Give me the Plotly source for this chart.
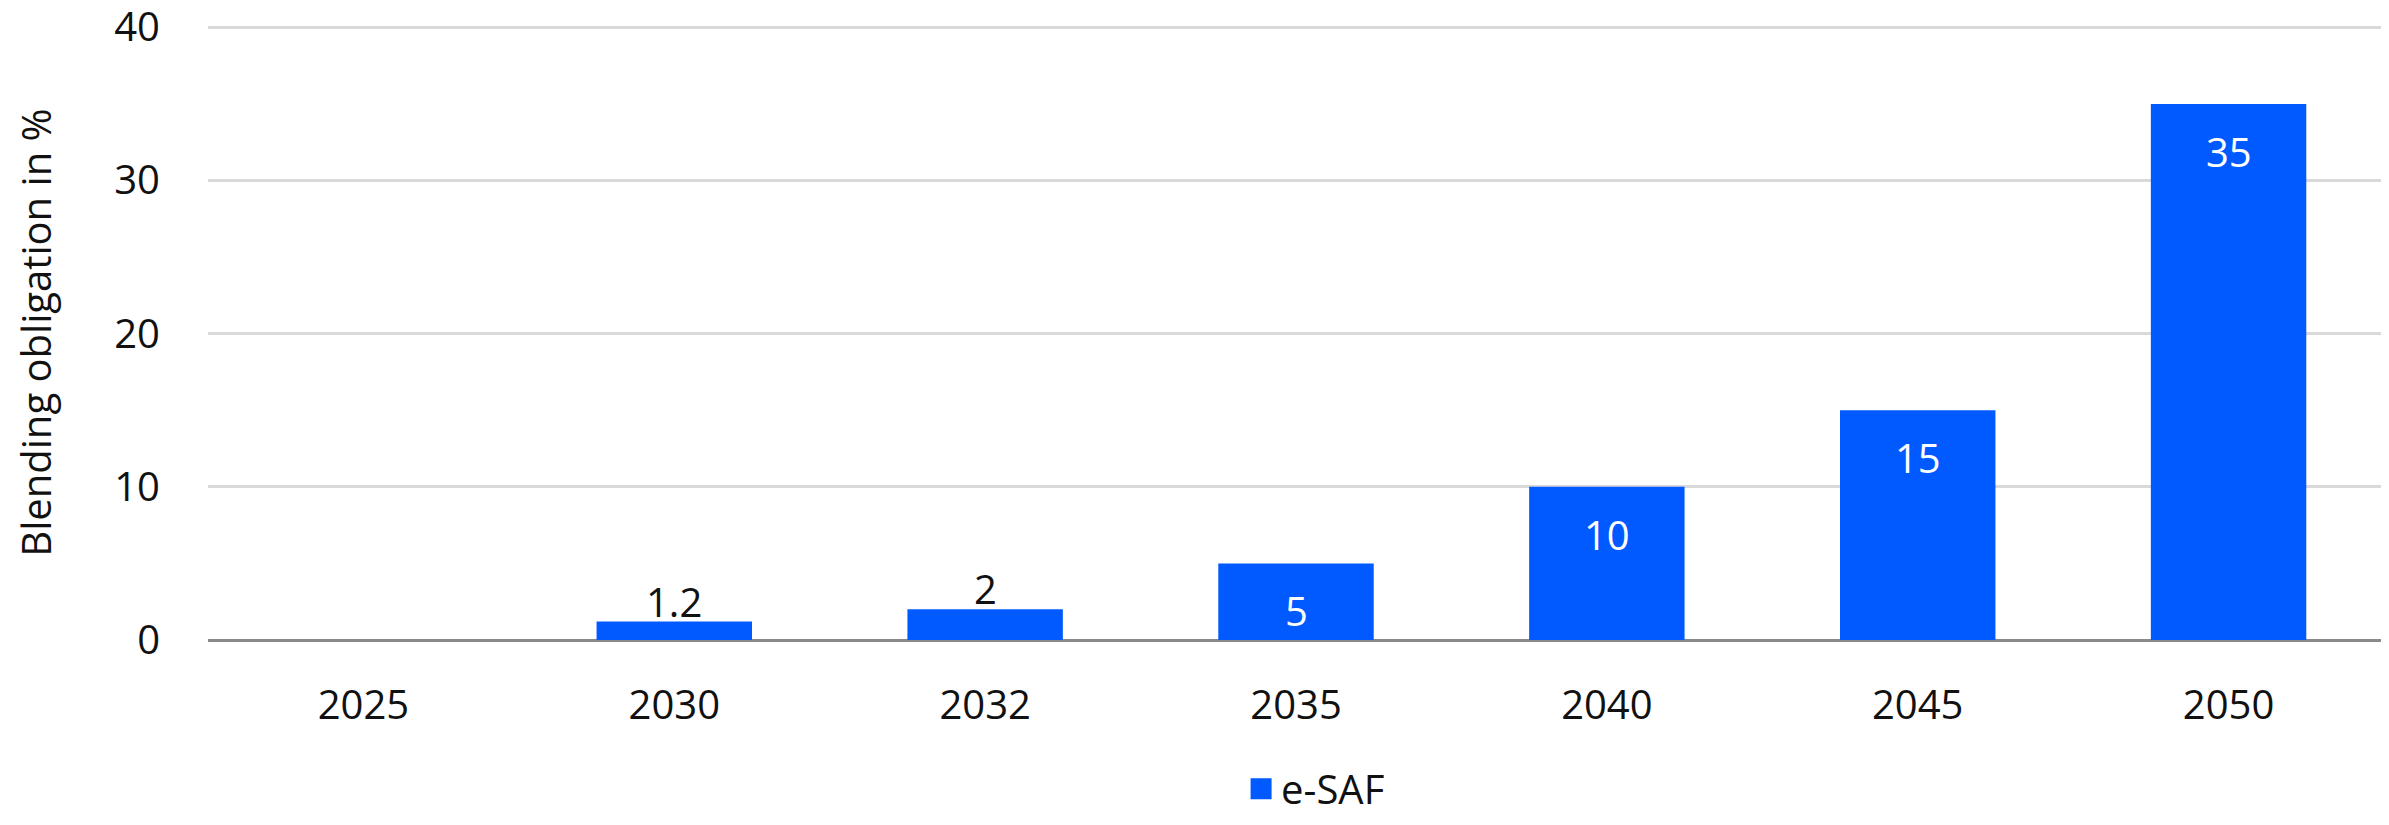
import plotly.graph_objects as go

years = ["2025", "2030", "2032", "2035", "2040", "2045", "2050"]
esaf = [0, 1.2, 2, 5, 10, 15, 35]
value_labels = ["", "1.2", "2", "5", "10", "15", "35"]
series_name = "e-SAF"
y_title = "Blending obligation in %"
y_ticks = [0, 10, 20, 30, 40]

BLUE = "#005AFF"
FONT = "Open Sans"
TXT = "#111111"

fig = go.Figure()
fig.add_trace(go.Bar(
    x=years, y=esaf, marker=dict(color=BLUE, line=dict(width=0)),
    name=series_name, showlegend=False, legendgroup="esaf",
))
# legend entry with a larger square swatch (no visible data)
fig.add_trace(go.Scatter(
    x=years[:1], y=[None], mode="markers", name=series_name, legendgroup="esaf",
    marker=dict(symbol="square", size=16, color=BLUE, line=dict(color=BLUE, width=5)),
    hoverinfo="skip",
))

annotations = []
for i, (v, t) in enumerate(zip(esaf, value_labels)):
    if not t:
        continue
    if v >= 4:
        annotations.append(dict(x=i, y=v, xref="x", yref="y", text=t, showarrow=False,
                                yanchor="top", yshift=-18,
                                font=dict(family=FONT, size=40, color="white")))
    else:
        annotations.append(dict(x=i, y=v, xref="x", yref="y", text=t, showarrow=False,
                                yanchor="bottom", yshift=-9,
                                font=dict(family=FONT, size=40, color=TXT)))

fig.update_layout(
    width=2381, height=817,
    margin=dict(l=200, r=5, t=17, b=184),
    paper_bgcolor="white", plot_bgcolor="white",
    font=dict(family=FONT, size=40, color=TXT),
    bargap=0.5,
    showlegend=True,
    legend=dict(orientation="h", x=0.509, xanchor="center", y=-0.24, yanchor="middle",
                font=dict(family=FONT, size=40, color=TXT),
                itemwidth=30, tracegroupgap=0),
    annotations=annotations,
    xaxis=dict(type="category", categoryorder="array", categoryarray=years,
               range=[-0.5, len(years) - 0.5],
               showgrid=False, ticks="", showline=False,
               zeroline=False, ticklabelstandoff=38,
               tickfont=dict(family=FONT, size=40, color=TXT)),
    yaxis=dict(range=[0, 40.15], tickvals=y_ticks, showgrid=True, gridcolor="#D9D9D9",
               gridwidth=3, zeroline=True, zerolinecolor="#898989", zerolinewidth=3,
               showline=False, ticks="", ticklabelstandoff=47, ticklabeloverflow="allow",
               tickfont=dict(family=FONT, size=40, color=TXT),
               title=dict(text=y_title, standoff=50,
                          font=dict(family=FONT, size=40, color=TXT)),
               automargin=False),
)

fig.write_html("out.html")
